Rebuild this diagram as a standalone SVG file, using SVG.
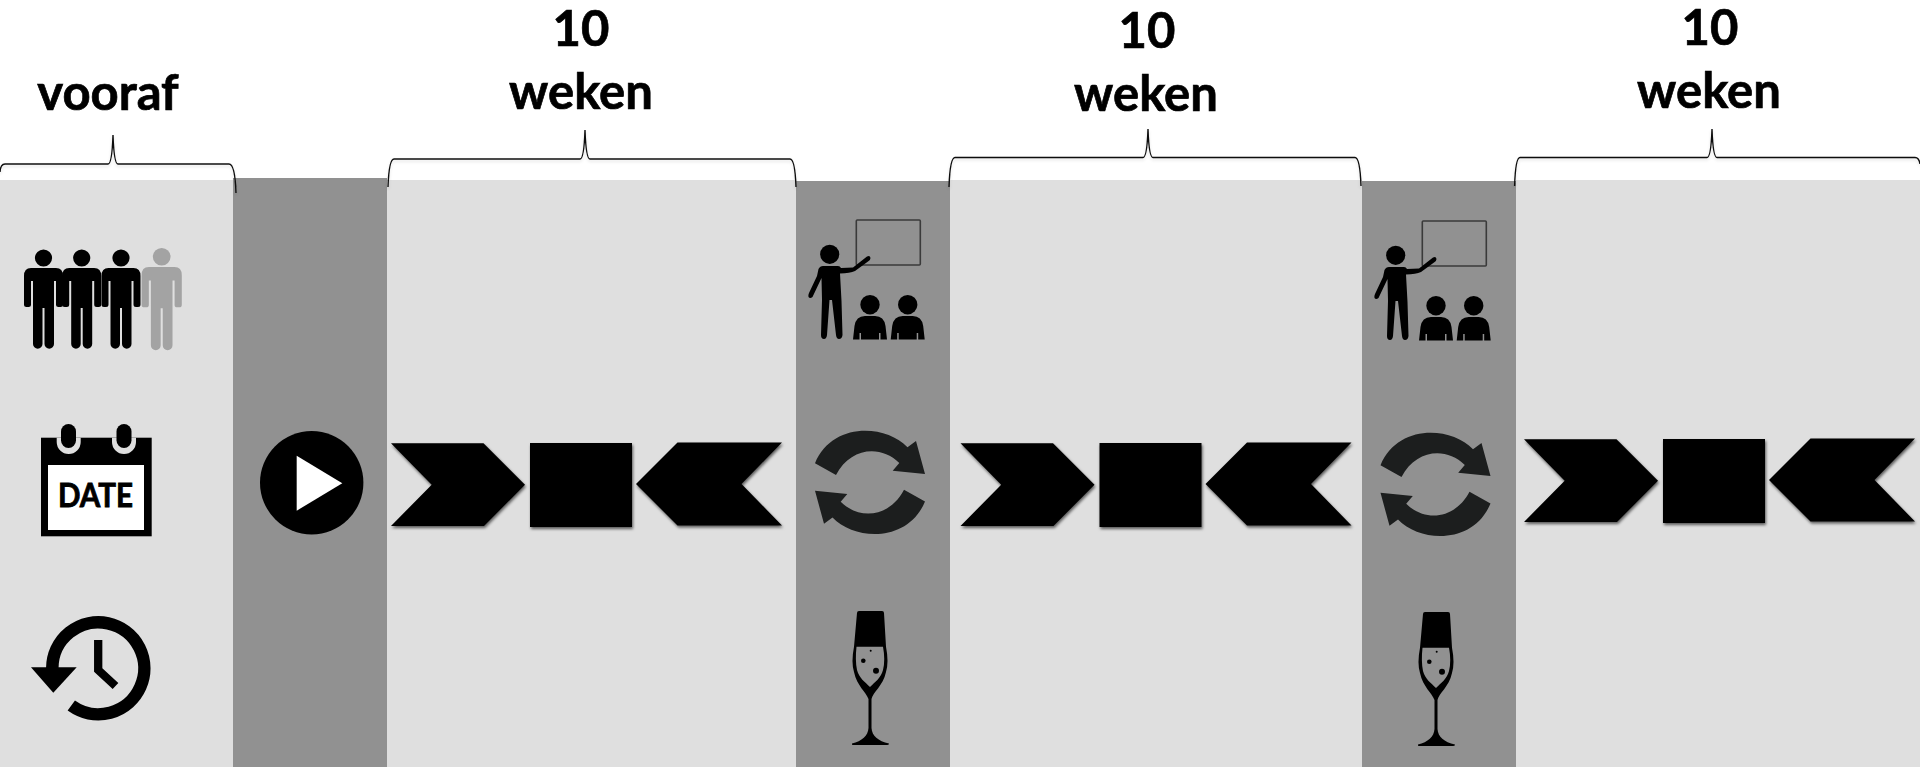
<svg xmlns="http://www.w3.org/2000/svg" xmlns:xlink="http://www.w3.org/1999/xlink" width="1920" height="767" viewBox="0 0 1920 767">
<style>
.lt{fill:#dfdfdf}.dk{fill:#919191}
.lbl{font-family:"Lato","Liberation Sans",sans-serif;font-weight:700;font-size:49px;fill:#000;stroke:#000;stroke-width:.7px;text-anchor:middle}
.brace{fill:none;stroke:#111;stroke-width:1.4;filter:url(#bs)}
</style>
<defs>
<filter id="sh" x="-10%" y="-10%" width="120%" height="125%"><feDropShadow dx="1" dy="2" stdDeviation="1.5" flood-color="#000" flood-opacity=".6"/></filter>
<filter id="bs" x="-5%" y="-20%" width="110%" height="150%"><feDropShadow dx="0" dy="2" stdDeviation="1.5" flood-color="#000" flood-opacity=".12"/></filter>
<g id="person"><circle cx="0" cy="258" r="8.6"/><path d="M-12.5,268H12.5Q19.5,268 19.5,276V304.5a2.5,2.5 0 0 1-2.5,2.5h-2a2.5,2.5 0 0 1-2.5-2.5V281H10.5V344a4.75,4.75 0 0 1-9.5,0V308H-1V344a4.75,4.75 0 0 1-9.5,0V281H-12.5V304.5a2.5,2.5 0 0 1-2.5,2.5h-2a2.5,2.5 0 0 1-2.5-2.5V276Q-19.5,268 -12.5,268Z"/></g>
<g id="arrows">
<g filter="url(#sh)">
<path d="M391,443.3H483.5L525,484.7L484,526H391L431.7,484.7Z"/>
<rect x="530" y="443" width="102" height="84"/>
<path d="M636,484L677.5,442.5H782L741.5,484L782,525.5H677.5Z"/>
</g></g>
<g id="student"><circle cx="0" cy="304.7" r="9.7"/><path d="M-17,339.5L-15.5,326Q-14,316 -5,316H5Q14,316 15.5,326L17,339.5H10.5V333H9V339.5H-9V333H-10.5V339.5Z"/></g>
<g id="teacher">
<rect x="856.3" y="220" width="64" height="45" rx="1" fill="none" stroke="#3a3a3a" stroke-width="1.6"/>
<circle cx="829.7" cy="254.3" r="9.6"/>
<path d="M823,266H838Q840,266 841,268L853,267.500L867,256.500Q870,255 870.500,258Q870.500,260 868,261.500L855,271Q850,273 840,273.500L841.500,301L842.500,335Q842,339 839,339Q836.500,339 836,335L832,300H829.500L827,335Q826.500,339 824,339Q821,339 821,335L822,300L821.500,278L812.500,297Q810,299 808.500,297Q808,295 809,293L817,276L818.500,269Q820,266 823,266Z"/>
<use href="#student" x="870"/><use href="#student" x="907.700"/>
</g>
<g id="refresh" fill="#1c1e1e">
<path id="rf" d="M815,463.300C832,422 885,424 907.500,447.300L916,441L925,474L892.700,470.700L899.300,463C880,444 850,448 836,475Z"/>
<use href="#rf" transform="rotate(180 870 482.400)"/>
</g>
<g id="glass">
<path d="M857,613Q857,611 859,611H882Q884,611 884,613L886,646.700Q889,662 886,672C883,686 873,692 871.500,699L871.500,728C872,736 878,741 889,743.500Q889,745 887,745H853Q851.500,745 852,743.500C862,741 868,736 868.500,728L868.500,699C866,692 857,686 854,672Q851,662 854,646.700Z"/>
<path d="M856.500,646.700H883Q885.500,660 883,670C881,678 875,682 870,687C865,682 859,678 857,670Q855,660 856.500,646.700Z" fill="#919191"/>
<circle cx="863.300" cy="660.700" r="2.300"/><circle cx="876" cy="670.700" r="3"/><circle cx="870.700" cy="650.700" r="1"/>
</g>
</defs>
<rect width="1920" height="767" fill="#fff"/>
<g id="columns">
<rect class="lt" x="0" y="180" width="233" height="587"/>
<rect class="dk" x="233" y="178" width="154" height="589"/>
<rect class="lt" x="387" y="180" width="409" height="587"/>
<rect class="dk" x="796" y="181" width="154" height="586"/>
<rect class="lt" x="950" y="180" width="412" height="587"/>
<rect class="dk" x="1362" y="181" width="154" height="586"/>
<rect class="lt" x="1516" y="180" width="404" height="587"/>
</g>
<g id="connectors">
<path class="brace" d="M0,172Q0.500,164 5,164H108Q112,164 113,135Q114,164 118,164H229Q235,164 236,193"/>
<path class="brace" d="M388,187Q389,159 394,159H580Q584,159 585,130Q586,159 590,159H790Q795,159 796,187"/>
<path class="brace" d="M949,187Q950,157.500 955,157.500H1143Q1147,157.500 1148,129Q1149,157.500 1153,157.500H1355Q1360,157.500 1361,186"/>
<path class="brace" d="M1514.600,186Q1515.500,157.500 1520,157.500H1707Q1711,157.500 1712,129Q1713,157.500 1717,157.500H1915Q1919,157.500 1920,164"/>
</g>
<g id="label-vooraf"><text class="lbl" x="108" y="110">vooraf</text></g>
<g id="label-1"><text class="lbl" x="581" y="46">10</text><text class="lbl" x="581" y="109">weken</text></g>
<g id="label-2"><text class="lbl" x="1147" y="48">10</text><text class="lbl" x="1146" y="111">weken</text></g>
<g id="label-3"><text class="lbl" x="1710" y="45">10</text><text class="lbl" x="1709" y="108">weken</text></g>
<g id="people">
<use href="#person" x="43.500"/><use href="#person" x="81.700"/><use href="#person" x="121"/>
<use href="#person" transform="translate(161.700 -9) scale(1.03 1.03)" style="fill:#a3a3a3"/>
</g>
<g id="calendar">
<rect x="41" y="437.700" width="110.700" height="98.600"/>
<rect x="48" y="465" width="96" height="65" fill="#fff"/>
<path d="M56.700,437.700V442a12,12 0 0 0 24,0V437.700ZM112,437.700V442a12,12 0 0 0 24,0V437.700Z" fill="#dfdfdf"/>
<rect x="61" y="424" width="15" height="24" rx="7.500"/><rect x="116.500" y="424" width="15" height="24" rx="7.500"/>
<text x="58" y="506.700" font-family="Lato,'Liberation Sans',sans-serif" font-weight="700" font-size="31.500" stroke="#000" stroke-width=".8" textLength="75" lengthAdjust="spacingAndGlyphs">DATE</text>
</g>
<g id="history">
<path d="M52.300,668A46,46 0 1 1 71.300,705.500" fill="none" stroke="#000" stroke-width="12.500"/>
<path d="M31,667.300H76.700L53.300,692.700Z"/>
<path d="M98.200,640V670L115.500,686" fill="none" stroke="#000" stroke-width="8.300"/>
</g>
<g id="play"><circle cx="311.700" cy="482.700" r="51.700"/><path d="M296.700,455.700L342.300,483.300L296.700,510.700Z" fill="#fff"/></g>
<g id="arrows-1"><use href="#arrows"/></g>
<g id="arrows-2"><use href="#arrows" x="569.500"/></g>
<g id="arrows-3"><use href="#arrows" x="1133" y="-4"/></g>
<g id="teacher-1"><use href="#teacher"/></g>
<g id="teacher-2"><use href="#teacher" x="566" y="1"/></g>
<g id="refresh-1"><use href="#refresh"/></g>
<g id="refresh-2"><use href="#refresh" x="565.500" y="2"/></g>
<g id="glass-1"><use href="#glass"/></g>
<g id="glass-2"><use href="#glass" x="566" y="1"/></g>
</svg>
